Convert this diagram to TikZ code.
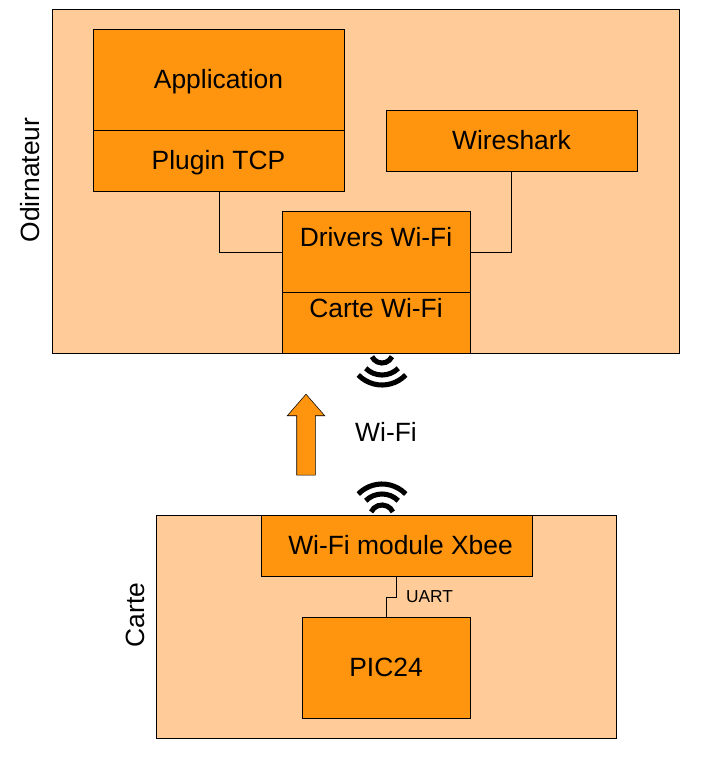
\documentclass[tikz,border=0pt]{standalone}
\usepackage{fontspec}
\setmainfont{Liberation Sans}
\usetikzlibrary{positioning,shapes.arrows}
\definecolor{zone}{HTML}{FFCC99}
\definecolor{bloc}{HTML}{FF950E}
\tikzset{
    zonebox/.style 2 args={draw, fill=zone, line width=.75pt, outer sep=0pt, inner sep=0pt, anchor=north west,
        minimum width=#1*.75pt, minimum height=#2*.75pt},
    block/.style 2 args={draw, fill=bloc, line width=.75pt, outer sep=0pt, inner sep=0pt, font=\fontsize{19.8}{22}\selectfont,
        text height=17.5pt, text depth=4pt, minimum width=#1*.75pt, minimum height=#2*.75pt},
    toptext/.style={text depth=24.5pt},
    title/.style={font=\fontsize{19.8}{22}\selectfont, inner sep=0pt},
    link/.style={line width=.75pt},
    wave/.style={line width=3.8pt},
    wifiup/.pic={\foreach \r/\a in {12/65,23/45,33/46} \draw[wave] (-90-\a:\r) arc (-90-\a:-90+\a:\r);},
    wifidown/.pic={\foreach \r/\a in {11/65,23/45,33/46} \draw[wave] (90-\a:\r) arc (90-\a:90+\a:\r);},
}
\begin{document}
\begin{tikzpicture}[x=.75pt, y=-.75pt]
    \useasboundingbox (0,0) rectangle (719,771);

    % ordinateur
    \node[zonebox={627.5}{343.5}]  (pc)    at (52,9.5)   {};
    \node[title, rotate=90]    (pclbl) at (30,180)  {Odirnateur};

    \node[block={251}{101}, anchor=north west] (appli)   at (93,29)    {Application};
    \node[block={251}{61}]                     (plugin)  [below=0pt of appli]   {Plugin TCP};
    \node[block={251}{61}, anchor=north west]  (shark)   at (386,110)  {Wireshark};
    \node[block={188}{81}, toptext, anchor=north west] (drivers) at (282,211)  {Drivers Wi-Fi};
    \node[block={188}{61}, toptext]            (wifipc)  [below=0pt of drivers] {Carte Wi-Fi};

    \draw[link] ([xshift=.75pt]plugin.south) |- ([yshift=-.4pt]drivers.west);
    \draw[link] (shark.south)  |- ([yshift=-.4pt]drivers.east);

    % liaison
    \pic at (382,352) {wifidown};
    \node[draw, fill=bloc, line width=.4pt, single arrow, shape border rotate=90, inner sep=0pt,
        minimum width=37*.75pt, minimum height=81*.75pt, single arrow head extend=9.5*.75pt,
        single arrow tip angle=82, text width=18*.75pt] (fleche) at (306,440) {};
    \node[title]  (wifi) at (386,432) {Wi-Fi};
    \pic at (382,517) {wifiup};

    % carte
    \node[zonebox={460}{222.5}]  (card)    at (156,515.5) {};
    \node[title, rotate=90]    (cardlbl) at (135,615) {Carte};

    \node[block={271}{60.5}, anchor=north west]  (xbee) at (261,515.5) {\hspace{6pt}Wi-Fi module Xbee};
    \node[block={168}{101}, anchor=north west] (pic)  at (302,617) {PIC24};
    \coordinate (coude) at (386,597);
    \node[font=\fontsize{13}{15}\selectfont, inner sep=0pt] (uart) at (429.5,597) {UART};

    \draw[link] (xbee.south) |- (coude) -- (pic.north);
\end{tikzpicture}
\end{document}
